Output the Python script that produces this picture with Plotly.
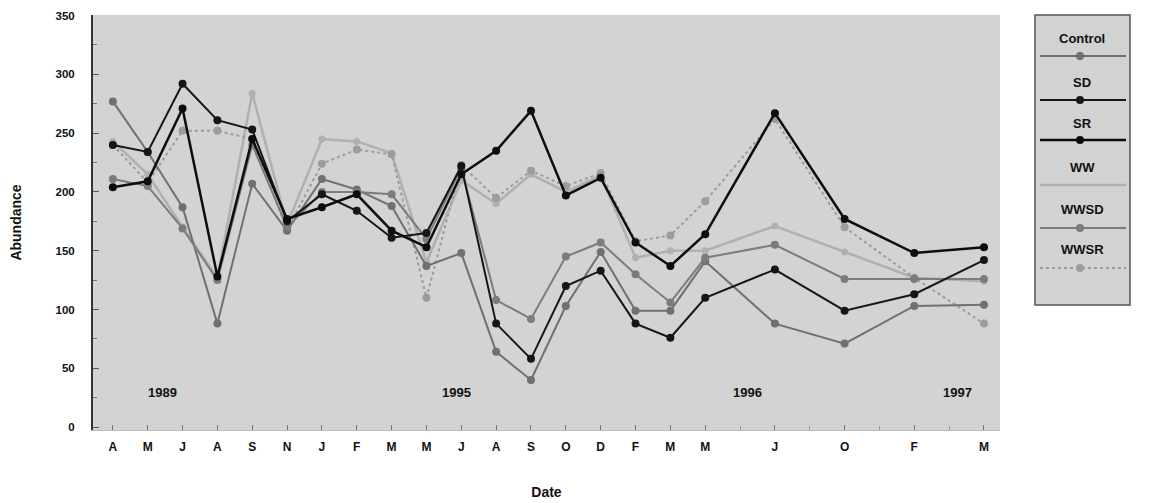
import plotly.graph_objects as go

# ---- data ----
x_pos = [0, 1, 2, 3, 4, 5, 6, 7, 8, 9, 10, 11, 12, 13, 14, 15, 16, 17, 19, 21, 23, 25]
tick_vals = x_pos
tick_text = ["A", "M", "J", "A", "S", "N", "J", "F", "M", "M", "J", "A", "S", "O",
             "D", "F", "M", "M", "J", "O", "F", "M"]

control = [277, 234, 187, 88, 207, 167, 211, 202, 188, 137, 148, 64, 40, 103, 149, 99, 99, 141, 88, 71, 103, 104]
sd = [240, 234, 292, 261, 253, 175, 198, 184, 161, 165, 222, 88, 58, 120, 133, 88, 76, 110, 134, 99, 113, 142]
sr = [204, 209, 271, 128, 245, 177, 187, 198, 167, 153, 215, 235, 269, 197, 212, 157, 137, 164, 267, 177, 148, 153]
ww = [243, 215, 170, 127, 284, 172, 245, 243, 233, 140, 210, 190, 215, 200, 214, 144, 150, 150, 171, 149, 127, 124]
wwsd = [211, 205, 169, 125, 240, 170, 200, 200, 198, 160, 220, 108, 92, 145, 157, 130, 106, 144, 155, 126, 126, 126]
wwsr = [240, 208, 252, 252, 245, 168, 224, 236, 232, 110, 223, 195, 218, 205, 216, 158, 163, 192, 262, 170, 127, 88]

year_labels = ["1989", "1995", "1996", "1997"]
year_x = [1.43, 9.87, 18.2, 24.25]
year_y = [29, 29, 29, 29]

series = [
    ("Control", control, "#707070", 2, "solid", 8),
    ("SD", sd, "#161616", 2, "solid", 8),
    ("SR", sr, "#0d0d0d", 2.5, "solid", 8),
    ("WW", ww, "#b0b0b0", 2.5, "solid", 7),
    ("WWSD", wwsd, "#7c7c7c", 2, "solid", 8),
    ("WWSR", wwsr, "#9c9c9c", 2, "dot", 8),
]

# ---- layout geometry (page body has an 8px margin) ----
OFF = 8
W, H = 1150 - OFF, 503 - OFF
L, R, T, B = 93 - OFF, 150, 15 - OFF, 73
PW, PH = W - L - R, H - T - B


def px(xp):  # page pixel -> paper x
    return (xp - OFF - L) / PW


def py(yp):  # page pixel -> paper y
    return (H - B - (yp - OFF)) / PH


FONT = "Liberation Sans, Arial, sans-serif"

fig = go.Figure()
order = [3, 5, 0, 4, 1, 2]
for i in order:
    name, vals, col, w, dash, ms = series[i]
    fig.add_trace(go.Scatter(
        x=x_pos, y=vals, name=name, mode="lines+markers",
        line=dict(color=col, width=w, dash=dash),
        marker=dict(color=col, size=ms),
        showlegend=False,
    ))

for t, xx, yy in zip(year_labels, year_x, year_y):
    fig.add_annotation(x=xx, y=yy, text=t, showarrow=False,
                       font=dict(family=FONT, size=13, color="#111", weight="bold"))

# custom legend box (text above swatch, as in the reference)
shapes = []
shapes.append(dict(type="rect", xref="paper", yref="paper",
                   x0=px(1035), x1=px(1130), y0=py(305), y1=py(15),
                   fillcolor="#d2d2d2", line=dict(color="#555", width=1.5), layer="below"))
leg_text_y = [38, 82, 123, 167, 210, 250]
leg_line_y = [56, 100, 140, 185, 228, 268]
for (name, vals, col, w, dash, ms), ty, ly in zip(series, leg_text_y, leg_line_y):
    fig.add_annotation(xref="paper", yref="paper", x=px(1082), y=py(ty), text=name,
                       showarrow=False, xanchor="center", yanchor="middle",
                       font=dict(family=FONT, size=13, color="#111", weight="bold"))
    shapes.append(dict(type="line", xref="paper", yref="paper",
                       x0=px(1040), x1=px(1126), y0=py(ly), y1=py(ly),
                       line=dict(color=col, width=w, dash=dash)))
    if name != "WW":
        r = 4
        shapes.append(dict(type="circle", xref="paper", yref="paper",
                           x0=px(1080 - r), x1=px(1080 + r), y0=py(ly + r), y1=py(ly - r),
                           fillcolor=col, line=dict(color=col, width=0)))

fig.update_layout(
    width=W, height=H,
    margin=dict(l=L, r=R, t=T, b=B, pad=0, autoexpand=False),
    paper_bgcolor="white",
    plot_bgcolor="#d3d3d3",
    font=dict(family=FONT, size=11, color="#111"),
    shapes=shapes,
    showlegend=False,
    xaxis=dict(
        range=[-0.57, 25.46], tickmode="array", tickvals=tick_vals, ticktext=tick_text,
        showgrid=False, zeroline=False, showline=True, linecolor="#bbbbbb", linewidth=1,
        ticks="inside", ticklen=5, tickcolor="#777", automargin=False,
        minor=dict(tickmode="array", tickvals=[18, 20, 22, 24], ticks="inside", ticklen=4, tickcolor="#999"),
        tickfont=dict(family=FONT, size=12, color="#111", weight="bold"),
        ticklabelstandoff=6,
        title=dict(text="Date", font=dict(family=FONT, size=14, color="#111", weight="bold"), standoff=33),
    ),
    yaxis=dict(
        range=[-2.5, 350.5], tickmode="array", tickvals=[0, 50, 100, 150, 200, 250, 300, 350],
        showgrid=False, zeroline=False, showline=True, linecolor="#333", linewidth=2,
        ticks="inside", ticklen=6, tickcolor="#555", automargin=False,
        minor=dict(dtick=25, ticks="inside", ticklen=4, tickcolor="#777"),
        tickfont=dict(family=FONT, size=11.5, color="#111", weight="bold"),
        ticklabelstandoff=14,
        title=dict(text="Abundance", font=dict(family=FONT, size=14, color="#111", weight="bold"), standoff=31),
    ),
)

fig.write_html("out.html")
